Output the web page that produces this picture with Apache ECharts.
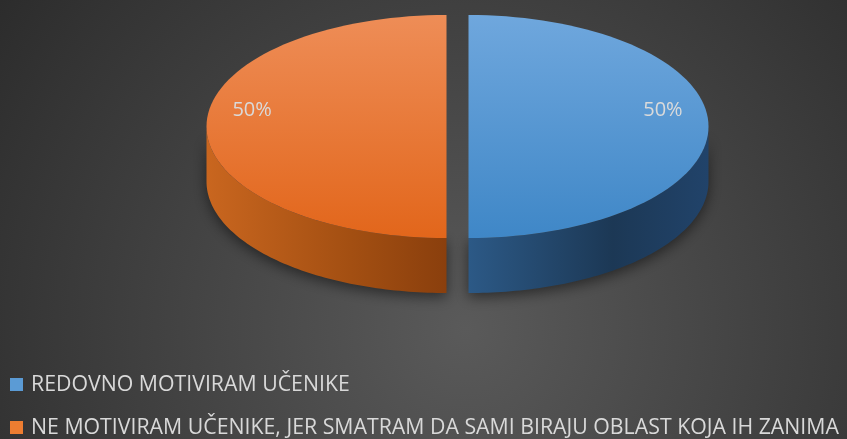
<!DOCTYPE html>
<html>
<head>
<meta charset="utf-8">
<script src="https://cdn.jsdelivr.net/npm/echarts@6/dist/echarts.min.js"></script>
<style>
  html, body { margin: 0; padding: 0; }
  #main { width: 847px; height: 439px; }
</style>
</head>
<body>
<div id="main"></div>
<script>
// podaci
const categories = ['REDOVNO MOTIVIRAM UČENIKE', 'NE MOTIVIRAM UČENIKE, JER SMATRAM DA SAMI BIRAJU OBLAST KOJA IH ZANIMA']
const values = [50, 50]

// boje: legenda, gornja ploha, bočna ploha
const legendColors = ['#5B9BD5', '#ED7D31']
const topColors = [['#6FA7DD', '#3F87C7'], ['#EE8D57', '#E2661B']]
const sideColors = [['#2C5986', '#1C3855', '#21436A'], ['#C9661F', '#A34F12', '#8A3F0D']]

const total = values.reduce((a, b) => a + b, 0)

// geometrija "3D" pite
const pie = { cx: 457.5, cy: 126.5, rx: 240, ry: 111.5, depth: 55, explode: 11 }

function pt(cx, cy, a, dy) {
  return [cx + pie.rx * Math.sin(a), cy - pie.ry * Math.cos(a) + (dy || 0)]
}

function renderSlice(idx) {
  return function (params, api) {
    let before = 0
    for (let k = 0; k < idx; k++) before += values[k]
    const start = before / total * Math.PI * 2
    const end = start + values[idx] / total * Math.PI * 2
    const mid = (start + end) / 2
    const cx = pie.cx + pie.explode * Math.sin(mid)
    const cy = pie.cy - pie.explode * Math.cos(mid) * pie.ry / pie.rx
    const steps = 80
    const children = []

    // bočna ploha (vidljiv prednji dio: pi/2 .. 3pi/2)
    const a0 = Math.max(start, Math.PI / 2)
    const a1 = Math.min(end, Math.PI * 1.5)
    if (a1 > a0) {
      const side = []
      for (let s = 0; s <= steps; s++) side.push(pt(cx, cy, a0 + (a1 - a0) * s / steps))
      for (let s = steps; s >= 0; s--) side.push(pt(cx, cy, a0 + (a1 - a0) * s / steps, pie.depth))
      const sc = sideColors[idx]
      children.push({
        type: 'polygon',
        shape: { points: side },
        style: {
          fill: new echarts.graphic.LinearGradient(0, 0, 1, 0, [
            { offset: 0, color: sc[0] },
            { offset: 0.6, color: sc[1] },
            { offset: 1, color: sc[2] }
          ]),
          shadowBlur: 14,
          shadowColor: 'rgba(0,0,0,0.5)',
          shadowOffsetY: 4
        }
      })
    }

    // gornja ploha
    const top = [[cx, cy]]
    for (let s = 0; s <= steps; s++) top.push(pt(cx, cy, start + (end - start) * s / steps))
    const tc = topColors[idx]
    children.push({
      type: 'polygon',
      shape: { points: top },
      style: {
        fill: new echarts.graphic.LinearGradient(0, 0, 0, 1, [
          { offset: 0, color: tc[0] },
          { offset: 1, color: tc[1] }
        ])
      }
    })

    // oznaka postotka
    const lp = [cx + 0.81 * pie.rx * Math.sin(mid), cy - 0.81 * pie.ry * Math.cos(mid) - 16]
    children.push({
      type: 'text',
      style: {
        x: lp[0], y: lp[1],
        text: Math.round(values[idx] / total * 100) + '%',
        fill: '#DADADA',
        font: '20px "Open Sans", sans-serif',
        align: 'center',
        verticalAlign: 'middle'
      }
    })

    return { type: 'group', children: children }
  }
}

const myChart = echarts.init(document.getElementById('main'))

// jedna legenda po stavci, jedna ispod druge
const legendTops = [374, 417]
const legends = categories.map((name, i) => ({
  orient: 'vertical',
  left: 10,
  top: legendTops[i],
  icon: 'rect',
  itemWidth: 13,
  itemHeight: 13,
  padding: 0,
  textStyle: {
    color: '#D9D9D9',
    fontSize: 21.3,
    fontFamily: '"Open Sans", sans-serif',
    padding: [0, 0, 0, 3]
  },
  data: [name]
}))

const option = {
  backgroundColor: {
    type: 'radial', x: 0.55, y: 0.75, r: 1.3,
    colorStops: [
      { offset: 0, color: '#5A5A5A' },
      { offset: 1, color: '#2C2C2C' }
    ]
  },
  color: legendColors,
  legend: legends,
  series: categories.map((name, i) => ({
    type: 'custom',
    name: name,
    coordinateSystem: 'none',
    itemStyle: { color: legendColors[i] },
    renderItem: renderSlice(i),
    data: [values[i]],
    silent: true
  }))
}

myChart.setOption(option)
</script>
</body>
</html>
